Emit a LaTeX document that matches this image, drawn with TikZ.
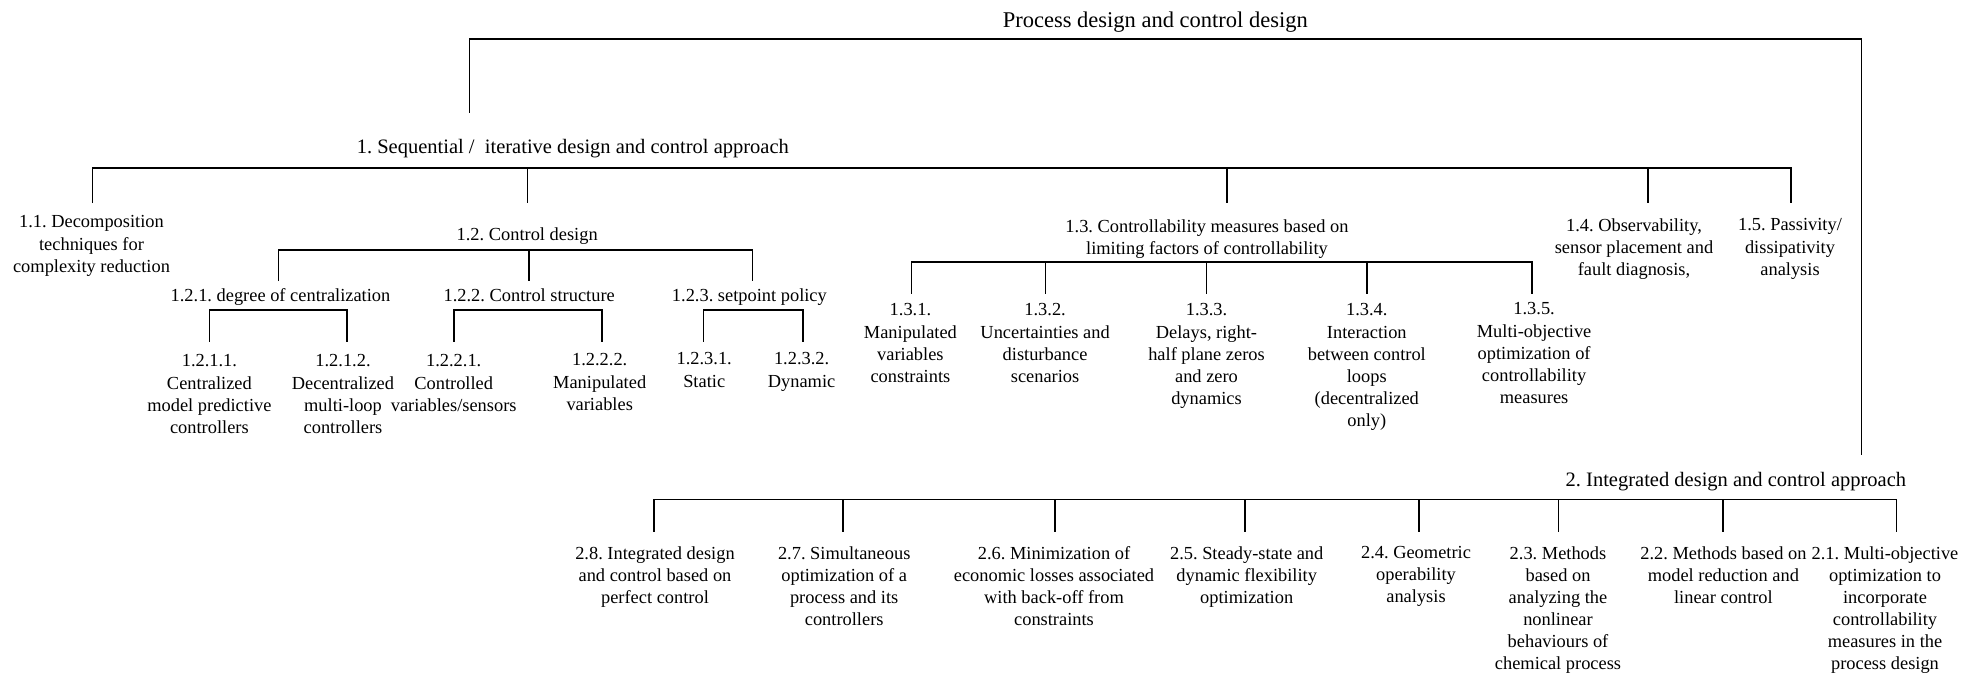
\documentclass[tikz,border=0pt]{standalone}
\usepackage{fontspec}
\setmainfont{Liberation Serif}
\newcommand\fLeaf{\fontsize{18.4pt}{22.1pt}\selectfont}
\newcommand\fHead{\fontsize{20.5pt}{24pt}\selectfont}
\newcommand\fTop{\fontsize{22.5pt}{26pt}\selectfont}
\begin{document}
\frenchspacing
\begin{tikzpicture}[x=1pt,y=-1pt,
  lnk/.style={line width=1.6pt, line join=miter},
  hd/.style={font=\fHead, inner sep=0pt, anchor=base},
  lbl/.style={font=\fLeaf, inner sep=0pt, anchor=base},
  box/.style={font=\fLeaf, inner sep=0pt, align=center, anchor=north,
              yshift=15.47pt, execute at begin node=\strut},
]
\fill[white] (0,0) rectangle (1970,675);
\useasboundingbox (0,0) rectangle (1970,675);

% ---------- headings ----------
\node[hd, font=\fTop] (root) at (1155.3,27.3) {Process design and control design};
\node[hd] (n1) at (572.8,153.3) {1. Sequential /~ iterative design and control approach};
\node[hd] (n2) at (1735.9,486.7) {2. Integrated design and control approach};

% ---------- branch 1 ----------
\node[box] (n11) at (91.5,231) {1.1. Decomposition\\techniques for\\complexity reduction};
\node[lbl] (n12) at (527.2,240) {1.2. Control design};
\node[box] (n13) at (1207,235) {1.3. Controllability measures based on\\limiting factors of controllability};
\node[box] (n14) at (1634,234) {1.4. Observability,\\sensor placement and\\fault diagnosis,};
\node[box] (n15) at (1790,234) {1.5. Passivity/\\dissipativity\\analysis};

\node[lbl] (n121) at (280.5,301) {1.2.1. degree of centralization};
\node[lbl] (n122) at (529.2,301) {1.2.2. Control structure};
\node[lbl] (n123) at (749.4,301) {1.2.3. setpoint policy};

\node[box] (n1211) at (209.4,370) {1.2.1.1.\\Centralized\\model predictive\\controllers};
\node[box] (n1212) at (343,370) {1.2.1.2.\\Decentralized\\multi-loop\\controllers};
\node[box] (n1221) at (453.7,370) {1.2.2.1.\\Controlled\\variables/sensors};
\node[box] (n1222) at (599.7,369) {1.2.2.2.\\Manipulated\\variables};
\node[box] (n1231) at (704.2,368) {1.2.3.1.\\Static};
\node[box] (n1232) at (801.6,368) {1.2.3.2.\\Dynamic};

\node[box] (n131) at (910.4,319) {1.3.1.\\Manipulated\\variables\\constraints};
\node[box] (n132) at (1045.1,319) {1.3.2.\\Uncertainties and\\disturbance\\scenarios};
\node[box] (n133) at (1206.5,319) {1.3.3.\\Delays, right-\\half plane zeros\\and zero\\dynamics};
\node[box] (n134) at (1366.8,319) {1.3.4.\\Interaction\\between control\\loops\\(decentralized\\only)};
\node[box] (n135) at (1534.1,318) {1.3.5.\\Multi-objective\\optimization of\\controllability\\measures};

% ---------- branch 2 ----------
\node[box] (n28) at (655,561.5) {2.8. Integrated design\\and control based on\\perfect control};
\node[box] (n27) at (844.2,561.5) {2.7. Simultaneous\\optimization of a\\process and its\\controllers};
\node[box] (n26) at (1054,561.5) {2.6. Minimization of\\economic losses associated\\with back-off from\\constraints};
\node[box] (n25) at (1246.7,561.5) {2.5. Steady-state and\\dynamic flexibility\\optimization};
\node[box] (n24) at (1416,561.5) {2.4. Geometric\\operability\\analysis};
\node[box] (n23) at (1558,561.5) {2.3. Methods\\based on\\analyzing the\\nonlinear\\behaviours of\\chemical process};
\node[box] (n22) at (1723.4,561.5) {2.2. Methods based on\\model reduction and\\linear control};
\node[box] (n21) at (1885,561.5) {2.1. Multi-objective\\optimization to\\incorporate\\controllability\\measures in the\\process design};

% ---------- connector end points ----------
% top frame
\coordinate (f1) at (469.3,112.7);
\coordinate (f2) at (1861.5,455);
\coordinate (fy) at (0,39);
% level 1
\coordinate (b1) at (0,168);
\coordinate (c11) at (92.6,203);
\coordinate (c12) at (527.3,203);
\coordinate (c13) at (1226.9,203);
\coordinate (c14) at (1648,203);
\coordinate (c15) at (1791,203);
% under 1.2
\coordinate (b12) at (0,250);
\coordinate (c121) at (278.6,281);
\coordinate (c122) at (529,281);
\coordinate (c123) at (752.6,281);
% under 1.2.x
\coordinate (b12x) at (0,310);
\coordinate (c1211) at (209.6,341.7);
\coordinate (c1212) at (346.8,341.7);
\coordinate (c1221) at (453.7,341.7);
\coordinate (c1222) at (601.9,341.7);
\coordinate (c1231) at (703.4,341.7);
\coordinate (c1232) at (803.1,341.7);
% under 1.3
\coordinate (b13) at (0,261.7);
\coordinate (c131) at (911.3,293.5);
\coordinate (c132) at (1045.5,293.5);
\coordinate (c133) at (1206.3,293.5);
\coordinate (c134) at (1366.8,293.5);
\coordinate (c135) at (1532.2,293.5);
% level 2
\coordinate (b2) at (0,499.5);
\coordinate (c28) at (653.9,531.7);
\coordinate (c27) at (843,531.7);
\coordinate (c26) at (1054.7,531.7);
\coordinate (c25) at (1244.8,531.7);
\coordinate (c24) at (1419,531.7);
\coordinate (c23) at (1558.5,531.7);
\coordinate (c22) at (1722.9,531.7);
\coordinate (c21) at (1896.5,531.7);

% ---------- connectors ----------
\draw[lnk] (f1) -- (fy -| f1) -- (fy -| f2) -- (f2);

\draw[lnk] (c11) -- (b1 -| c11) -- (b1 -| c15) -- (c15);
\foreach \c in {c12,c13,c14} \draw[lnk] (b1 -| \c) -- (\c);

\draw[lnk] (c121) -- (b12 -| c121) -- (b12 -| c123) -- (c123);
\draw[lnk] (b12 -| c122) -- (c122);

\draw[lnk] (c1211) -- (b12x -| c1211) -- (b12x -| c1212) -- (c1212);
\draw[lnk] (c1221) -- (b12x -| c1221) -- (b12x -| c1222) -- (c1222);
\draw[lnk] (c1231) -- (b12x -| c1231) -- (b12x -| c1232) -- (c1232);

\draw[lnk] (c131) -- (b13 -| c131) -- (b13 -| c135) -- (c135);
\foreach \c in {c132,c133,c134} \draw[lnk] (b13 -| \c) -- (\c);

\draw[lnk] (c28) -- (b2 -| c28) -- (b2 -| c21) -- (c21);
\foreach \c in {c27,c26,c25,c24,c23,c22} \draw[lnk] (b2 -| \c) -- (\c);
\end{tikzpicture}
\end{document}
